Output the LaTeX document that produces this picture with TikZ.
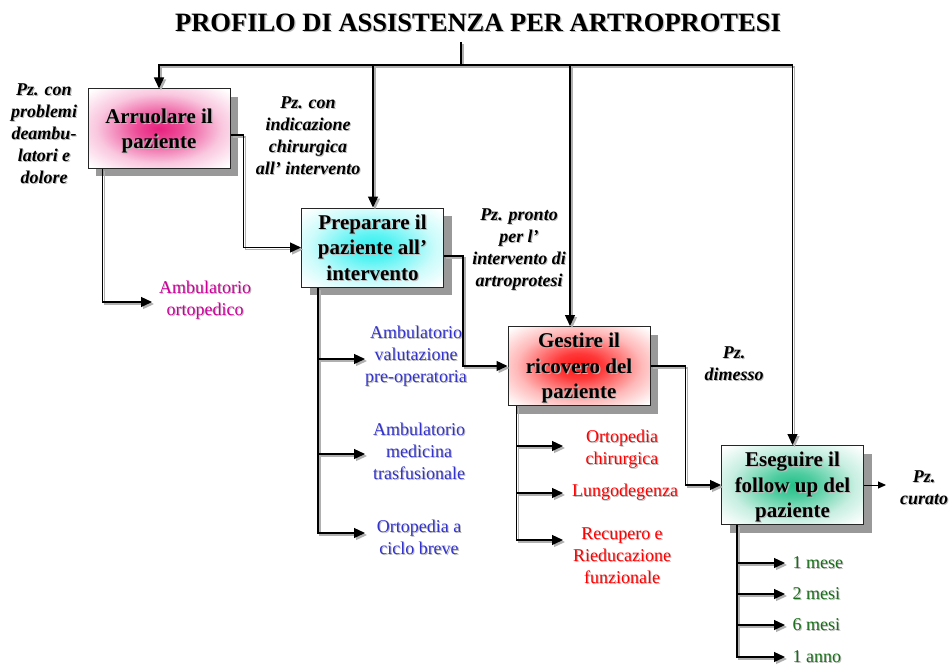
\documentclass[tikz,border=0pt]{standalone}
\usepackage{fontspec}
\setmainfont{Liberation Serif}
\usetikzlibrary{arrows.meta,shadows,calc}
\definecolor{magtext}{HTML}{CC0099}
\definecolor{bluetext}{HTML}{3333CC}
\definecolor{redtext}{HTML}{FF0000}
\definecolor{greentext}{HTML}{1A6E1A}
\definecolor{pinkc}{HTML}{E8207E}
\definecolor{cyanc}{HTML}{30F0F0}
\definecolor{redc}{HTML}{FF1515}
\definecolor{greenc}{HTML}{22C088}
\definecolor{shadowgray}{HTML}{999999}
\definecolor{linegray}{HTML}{B0B0B0}
\definecolor{textshadow}{HTML}{BBBBBB}
\newcommand\shl[1]{\leavevmode\rlap{\kern1.2pt\raisebox{-1.2pt}{\color{textshadow}#1}}#1}
\pgfdeclareradialshading{glowpink}{\pgfpoint{0bp}{0bp}}{color(0bp)=(pinkc); color(8bp)=(pinkc!80!white); color(22bp)=(pinkc!25!white); color(34bp)=(white); color(50bp)=(white)}
\pgfdeclareradialshading{glowcyan}{\pgfpoint{0bp}{0bp}}{color(0bp)=(cyanc); color(8bp)=(cyanc!80!white); color(22bp)=(cyanc!25!white); color(34bp)=(white); color(50bp)=(white)}
\pgfdeclareradialshading{glowred}{\pgfpoint{0bp}{0bp}}{color(0bp)=(redc); color(8bp)=(redc!85!white); color(22bp)=(redc!30!white); color(34bp)=(white); color(50bp)=(white)}
\pgfdeclareradialshading{glowgreen}{\pgfpoint{0bp}{0bp}}{color(0bp)=(greenc); color(8bp)=(greenc!80!white); color(22bp)=(greenc!25!white); color(34bp)=(white); color(50bp)=(white)}
\begin{document}
\begin{tikzpicture}[x=1pt,y=-1pt,
  stepbox/.style={draw=black!85, line width=1pt, minimum width=142pt, minimum height=79pt,
    inner sep=0pt, align=center, font=\fontsize{21}{25.5}\selectfont\bfseries, text depth=-1.5pt,
    drop shadow={shadow xshift=8pt, shadow yshift=-8pt, fill=shadowgray, opacity=1}},
  conn/.style={line width=1.3pt, draw=black,
    preaction={draw=linegray, line width=1.3pt, transform canvas={shift={(2pt,-2pt)}}}},
  tip/.style={-{Triangle[length=11pt,width=10pt]}},
  flowlab/.style={align=center, font=\fontsize{18}{22}\selectfont\bfseries\itshape},
  destlab/.style={align=center, font=\fontsize{18}{22}\selectfont}
]
\useasboundingbox (0,0) rectangle (949,666);

% title
\node[font=\fontsize{26.5}{30}\selectfont\bfseries] (title) at (478,23) {\shl{PROFILO DI ASSISTENZA PER ARTROPROTESI}};

% boxes
\node[stepbox, shading=glowpink] (b1) at (159,128.5) {\shl{Arruolare il}\\\shl{paziente}};
\node[stepbox, shading=glowcyan] (b2) at (372.5,247.5) {\shl{Preparare il}\\\shl{paziente all’}\\\shl{intervento}};
\node[stepbox, shading=glowred] (b3) at (579,366) {\shl{Gestire il}\\\shl{ricovero del}\\\shl{paziente}};
\node[stepbox, shading=glowgreen] (b4) at (792.5,485) {\shl{Eseguire il}\\\shl{follow up del}\\\shl{paziente}};

% flow labels
\node[flowlab] (l1) at (44,134) {\shl{Pz. con}\\\shl{problemi}\\\shl{deambu-}\\\shl{latori e}\\\shl{dolore}};
\node[flowlab] (l2) at (308,136) {\shl{Pz. con}\\\shl{indicazione}\\\shl{chirurgica}\\\shl{all’ intervento}};
\node[flowlab] (l3) at (519,250) {\shl{Pz. pronto}\\\shl{per l’}\\\shl{intervento di}\\\shl{artroprotesi}};
\node[flowlab] (l4) at (734,364) {\shl{Pz.}\\\shl{dimesso}};
\node[flowlab] (l5) at (924,488) {\shl{Pz.}\\\shl{curato}};

% destination labels
\node[destlab, text=magtext] (d1) at (205,301) {\shl{Ambulatorio}\\\shl{ortopedico}};
\node[destlab, text=bluetext] (d2) at (416,357) {\shl{Ambulatorio}\\\shl{valutazione}\\\shl{pre-operatoria}};
\node[destlab, text=bluetext] (d3) at (419,452) {\shl{Ambulatorio}\\\shl{medicina}\\\shl{trasfusionale}};
\node[destlab, text=bluetext] (d4) at (419,538) {\shl{Ortopedia a}\\\shl{ciclo breve}};
\node[destlab, text=redtext] (d5) at (622,450) {\shl{Ortopedia}\\\shl{chirurgica}};
\node[destlab, text=redtext] (d6) at (625,493) {\shl{Lungodegenza}};
\node[destlab, text=redtext] (d7) at (622,556) {\shl{Recupero e}\\\shl{Rieducazione}\\\shl{funzionale}};
\node[destlab, text=greentext, anchor=west] (g1) at (789,563) {\shl{1 mese}};
\node[destlab, text=greentext, anchor=west] (g2) at (789,594) {\shl{2 mesi}};
\node[destlab, text=greentext, anchor=west] (g3) at (789,625) {\shl{6 mesi}};
\node[destlab, text=greentext, anchor=west] (g4) at (789,657) {\shl{1 anno}};

% top bus
\coordinate (stem) at (461,42);
\coordinate (bus) at (461,65);
\coordinate (j2) at (373,65);
\coordinate (j3) at (570,65);
\draw[conn] (stem) -- (bus);
\draw[conn,tip] (bus) -| (b1.north);
\draw[conn,tip] (bus) -| (b4.north);
\draw[conn,tip] (j2) -- (j2 |- b2.north);
\draw[conn,tip] (j3) -- (j3 |- b3.north);

% main flow
\draw[conn,tip] ($(b1.east)+(0,6.5)$) -- ++(13,0) |- (b2.west);
\draw[conn,tip] ($(b2.east)+(0,8.5)$) -- ++(19,0) |- (b3.west);
\draw[conn,tip] (b3.east) -- ++(35,0) |- (b4.west);
\coordinate (out) at (886,485);
\draw[line width=1pt, -{Triangle[length=8pt,width=7pt]}] (b4.east) -- (out);

% branches from box 1
\coordinate (t1) at (152,302);
\draw[conn,tip] ($(b1.south west)+(15,0)$) |- (t1);

% branches from box 2
\coordinate (t2a) at (365,359);
\coordinate (t2b) at (365,454);
\coordinate (t2c) at (365,533);
\draw[conn,tip] ($(b2.south west)+(17,0)$) |- (t2c);
\draw[conn,tip] (318,359) -- (t2a);
\draw[conn,tip] (318,454) -- (t2b);

% branches from box 3
\coordinate (t3a) at (563,446);
\coordinate (t3b) at (563,493);
\coordinate (t3c) at (563,540);
\draw[conn,tip] ($(b3.south west)+(9,0)$) |- (t3c);
\draw[conn,tip] (516,446) -- (t3a);
\draw[conn,tip] (516,493) -- (t3b);

% branches from box 4
\coordinate (t4a) at (785,563);
\coordinate (t4b) at (785,594);
\coordinate (t4c) at (785,625);
\coordinate (t4d) at (785,657);
\draw[conn,tip] ($(b4.south west)+(16,0)$) |- (t4d);
\draw[conn,tip] (737,563) -- (t4a);
\draw[conn,tip] (737,594) -- (t4b);
\draw[conn,tip] (737,625) -- (t4c);
\end{tikzpicture}
\end{document}
